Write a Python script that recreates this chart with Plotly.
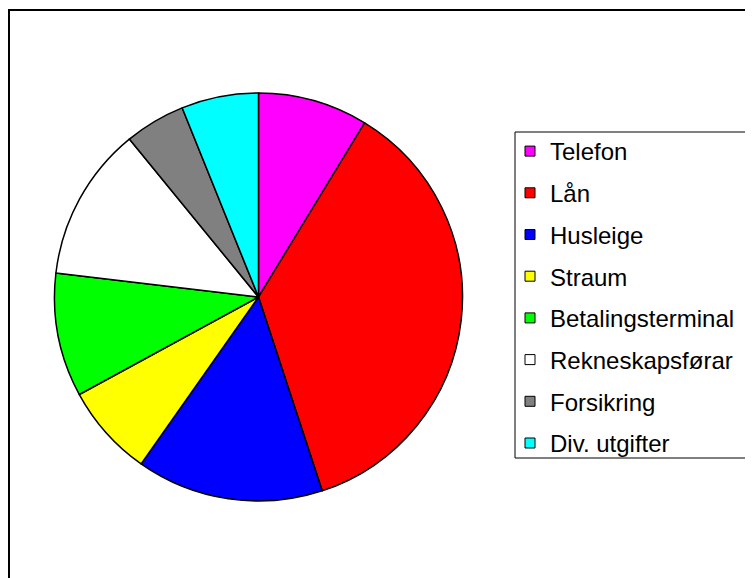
import plotly.graph_objects as go

categories = ["Telefon", "Lån", "Husleige", "Straum", "Betalingsterminal",
              "Rekneskapsførar", "Forsikring", "Div. utgifter"]
values = [8.7, 36.2, 14.8, 7.3, 9.8, 12.2, 4.8, 6.1]
colors = ["#FF00FF", "#FF0000", "#0000FF", "#FFFF00", "#00FF00",
          "#FFFFFF", "#808080", "#00FFFF"]

W, H = 753, 578
OFF = 8  # page body margin
cx, cy, r = 258.5 - OFF, 297 - OFF, 204
FONT = "Arial, Liberation Sans, sans-serif"

fig = go.Figure()
fig.add_trace(go.Pie(
    labels=categories,
    values=values,
    sort=False,
    direction="clockwise",
    rotation=0,
    textinfo="none",
    hoverinfo="label+percent",
    showlegend=False,
    marker=dict(colors=colors, line=dict(color="black", width=1.5)),
    domain=dict(x=[(cx - r) / W, (cx + r) / W],
                y=[(H - cy - r) / H, (H - cy + r) / H]),
))

# legend entries (one per slice, same colours)
for name, col in zip(categories, colors):
    fig.add_trace(go.Scatter(
        x=[None], y=[None], mode="markers", name=name, legendgroup=name,
        marker=dict(symbol="square", size=10, color=col,
                    line=dict(color="black", width=1)),
        hoverinfo="skip",
    ))

fig.update_layout(
    width=W, height=H,
    margin=dict(l=0, r=0, t=0, b=0),
    paper_bgcolor="white",
    plot_bgcolor="white",
    font=dict(family=FONT, color="black"),
    xaxis=dict(visible=False),
    yaxis=dict(visible=False),
    legend=dict(
        x=(510 - OFF) / W, y=1 - (129 - OFF) / H, xanchor="left", yanchor="top",
        borderwidth=0, bgcolor="rgba(0,0,0,0)",
        font=dict(size=24, family=FONT, color="black"),
        itemwidth=30, tracegroupgap=7.5,
    ),
    shapes=[
        dict(type="rect", xref="paper", yref="paper",
             x0=1 / W, x1=1.05, y0=-0.05, y1=1 - 2 / H,
             line=dict(color="black", width=2)),
        dict(type="rect", xref="paper", yref="paper",
             x0=(515 - OFF) / W, x1=(752 - OFF) / W,
             y0=1 - (458 - OFF) / H, y1=1 - (132 - OFF) / H,
             line=dict(color="black", width=1)),
    ],
)

fig.write_html("out.html")
